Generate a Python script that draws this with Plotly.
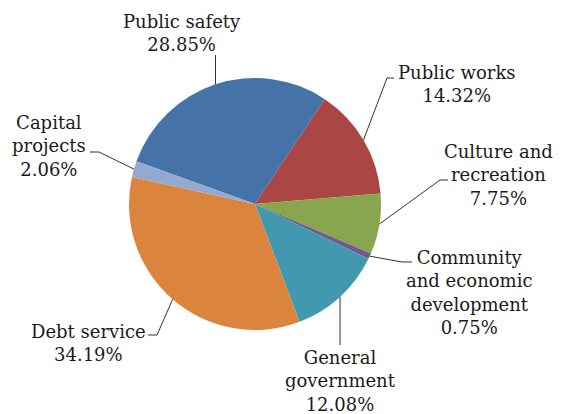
import numpy as np
import plotly.graph_objects as go

# Data
categories = ["Public safety", "Public works", "Culture and recreation",
              "Community and economic development", "General government",
              "Debt service", "Capital projects"]
values = [28.85, 14.32, 7.75, 0.75, 12.08, 34.19, 2.06]
label_texts = ["Public safety<br>28.85%", "Public works<br>14.32%",
               "Culture and<br>recreation<br>7.75%",
               "Community<br>and economic<br>development<br>0.75%",
               "General<br>government<br>12.08%",
               "Debt service<br>34.19%", "Capital<br>projects<br>2.06%"]
colors = ["#4572A7", "#AA4643", "#89A54E", "#71588F", "#4198AF", "#DB843D", "#93A9CF"]

W, H = 566, 414
CX, CY, R = 255, 204, 126   # pie centre / radius in pixels
ROT = -70.2

fig = go.Figure(go.Pie(
    labels=categories, values=values, sort=False, direction="clockwise",
    rotation=ROT, marker=dict(colors=colors, line=dict(width=0)),
    textinfo="none", hoverinfo="skip", showlegend=False,
    domain=dict(x=[(CX - R) / W, (CX + R) / W],
                y=[(H - CY - R) / H, (H - CY + R) / H]),
))

def px(x, y):
    return x / W, 1 - y / H

# label layout (centre x, centre y in pixels) and leader line elbows
label_pos = [(182, 33), (457, 84), (498, 175), (469, 292), (340, 381), (88, 343), (49, 146)]
elbows = [[(None, 55)], [(387, 78), (394, 78)], [(440, 180), (448, 180)],
          [(402, 262), (412, 262)], [(None, 345)], [(157, 335), (148, 335)],
          [(99, 152), (90, 152)]]

total = sum(values)
start = ROT
annotations, shapes = [], []
for i, v in enumerate(values):
    mid = np.deg2rad(start + v / total * 360 / 2)
    start += v / total * 360
    ex, ey = CX + R * np.sin(mid), CY - R * np.cos(mid)
    pts = [(ex, ey)] + [(ex if x is None else x, y) for x, y in elbows[i]]
    path = "M " + " L ".join(f"{px(x, y)[0]:.5f},{px(x, y)[1]:.5f}" for x, y in pts)
    shapes.append(dict(type="path", path=path, xref="paper", yref="paper",
                       line=dict(color="#333333", width=1)))
    lx, ly = px(*label_pos[i])
    annotations.append(dict(text=label_texts[i], x=lx, y=ly, xref="paper", yref="paper",
                            xanchor="center", yanchor="middle", showarrow=False,
                            align="center", font=dict(family="DejaVu Serif", size=18, color="#1a1a1a")))

fig.update_layout(width=W, height=H, margin=dict(l=0, r=0, t=0, b=0),
                  paper_bgcolor="white", plot_bgcolor="white",
                  annotations=annotations, shapes=shapes)
fig.write_html("out.html")
